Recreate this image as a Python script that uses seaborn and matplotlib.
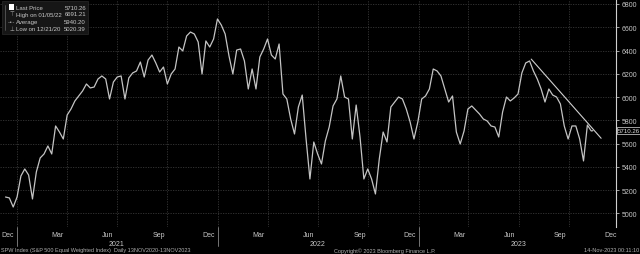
import matplotlib
matplotlib.use("Agg")
import matplotlib.pyplot as plt
import matplotlib.transforms as mtransforms
import matplotlib.patches as mpatches
from matplotlib import font_manager
import seaborn as sns
import pandas as pd

# ---------------- data ----------------
week_start = "2020-12-11"
n_weeks = 153
last_date = "2023-11-13"
spw_close = [
    5140, 5132, 5054, 5140, 5321, 5381, 5329, 5123, 5355, 5476,
    5510, 5579, 5510, 5751, 5699, 5639, 5845, 5897, 5966, 6009,
    6052, 6112, 6078, 6086, 6155, 6181, 6155, 5983, 6129, 6172,
    6181, 5983, 6164, 6207, 6224, 6301, 6172, 6318, 6361, 6293,
    6215, 6258, 6112, 6198, 6241, 6430, 6396, 6525, 6559, 6542,
    6473, 6198, 6482, 6430, 6499, 6671, 6619, 6542, 6353, 6198,
    6404, 6413, 6310, 6069, 6241, 6069, 6344, 6413, 6499, 6361,
    6327, 6456, 6026, 5983, 5811, 5682, 5914, 6017, 5639, 5295,
    5613, 5510, 5424, 5622, 5742, 5923, 5983, 6181, 6000, 5983,
    5639, 5931, 5656, 5295, 5381, 5295, 5166, 5467, 5699, 5613,
    5914, 5957, 6000, 5983, 5897, 5785, 5639, 5785, 5983, 6009,
    6069, 6241, 6224, 6181, 6069, 5957, 6009, 5699, 5596, 5708,
    5897, 5923, 5888, 5854, 5811, 5794, 5751, 5742, 5656, 5871,
    6000, 5966, 5992, 6026, 6207, 6293, 6310, 6224, 6155, 6069,
    5957, 6069, 6017, 6000, 5940, 5751, 5639, 5751, 5751, 5639,
    5450, 5759, 5708, 5710.26,
]
trend_dates = ["2023-07-24", "2023-11-28"]
trend_values = [6326, 5645]

legend_labels = ["Last Price", "High on 01/05/22", "Average", "Low on 12/21/20"]
legend_values = ["5710.26", "6691.21", "5940.20", "5020.39"]
last_price = 5710.26

y_ticks = [5000, 5200, 5400, 5600, 5800, 6000, 6200, 6400, 6600, 6800]
month_labels = ["Dec", "Mar", "Jun", "Sep", "Dec", "Mar", "Jun", "Sep",
                "Dec", "Mar", "Jun", "Sep", "Dec"]
month_label_dates = ["2020-12-15", "2021-03-15", "2021-06-15", "2021-09-15",
                     "2021-12-15", "2022-03-15", "2022-06-15", "2022-09-15",
                     "2022-12-15", "2023-03-15", "2023-06-15", "2023-09-15",
                     "2023-12-15"]
year_labels = ["2021", "2022", "2023"]
year_label_dates = ["2021-07-01", "2022-07-01", "2023-07-01"]
year_sep_dates = ["2021-01-01", "2022-01-01", "2023-01-01"]
quarter_grid_dates = pd.date_range("2021-01-01", "2023-10-01", freq="QS")

footer_left = "SPW Index (S&P 500 Equal Weighted Index)  Daily 13NOV2020-13NOV2023"
footer_mid = "Copyright\u00a9 2023 Bloomberg Finance L.P."
footer_right = "14-Nov-2023 00:11:10"

# ---------------- frame ----------------
dates = list(pd.date_range(week_start, periods=n_weeks, freq="7D")) + [pd.Timestamp(last_date)]
df = pd.DataFrame({"date": dates, "close": spw_close})

sns.set_style("dark")
installed = {f.name for f in font_manager.fontManager.ttflist}
fams = [f for f in ["Liberation Sans Narrow", "Liberation Sans", "DejaVu Sans"] if f in installed]
plt.rcParams["font.family"] = fams

W, H = 640, 255
fig = plt.figure(figsize=(W / 100, H / 100), dpi=100, facecolor="black")
ax = fig.add_axes([0, 1 - 228 / H, 616 / W, 228 / H])
ax.set_facecolor("black")

grid_col = "#383838"
text_col = "#c8c8c8"

for yv in y_ticks:
    ax.axhline(yv, color=grid_col, lw=0.6, ls=(0, (1.5, 1.5)), zorder=0)
for d in quarter_grid_dates:
    ax.axvline(d, color=grid_col, lw=0.6, ls=(0, (1.5, 1.5)), zorder=0)

sns.lineplot(data=df, x="date", y="close", ax=ax, color="#c4c4c4", lw=0.9,
             legend=False, zorder=3)
ax.plot(pd.to_datetime(trend_dates), trend_values, color="#d0d0d0", lw=0.8, zorder=4)

ax.set_xlim(pd.Timestamp("2020-12-13"), pd.Timestamp("2023-12-25"))
ax.set_ylim(4882, 6843)

# y axis on the right
ax.yaxis.tick_right()
ax.set_yticks(y_ticks)
ax.set_yticklabels([str(v) for v in y_ticks])
ax.tick_params(axis="y", colors="#bbbbbb", labelsize=5, length=2, width=0.6, pad=2,
               labelcolor=text_col)
for s in ["left", "top", "bottom"]:
    ax.spines[s].set_visible(False)
ax.spines["right"].set_color("#cfcfcf")
ax.spines["right"].set_linewidth(0.8)

# x axis labels
ax.set_xticks(pd.to_datetime(month_label_dates))
ax.set_xticklabels(month_labels)
ax.tick_params(axis="x", length=0, labelsize=5, labelcolor=text_col, pad=3)
ax.set_xticks(pd.date_range("2020-12-01", "2023-12-01", freq="MS"), minor=True)
ax.tick_params(axis="x", which="minor", direction="in", length=2, width=0.5, color="#888888")
ax.set_xlabel("")
ax.set_ylabel("")

trans = mtransforms.blended_transform_factory(ax.transData, ax.transAxes)
for d in pd.to_datetime(year_sep_dates):
    ax.plot([d, d], [0.0, -0.085], transform=trans, color="#888888", lw=0.6, clip_on=False)
for lab, d in zip(year_labels, pd.to_datetime(year_label_dates)):
    ax.text(d, -0.072, lab, transform=trans, ha="center", va="center", fontsize=5,
            color=text_col)

# last price tag
ytrans = mtransforms.blended_transform_factory(ax.transAxes, ax.transData)
ax.text(1.003, last_price, f"{last_price:.2f}", transform=ytrans, ha="left", va="center",
        fontsize=4.4, color="#e0e0e0", clip_on=False,
        bbox=dict(boxstyle="square,pad=0.12", fc="black", ec="#e0e0e0", lw=0.5))

# legend box (top-left)
fig.patches.append(mpatches.Rectangle((2 / W, 1 - 35 / H), 86 / W, 33 / H,
                                      transform=fig.transFigure, fc="#161616",
                                      ec="#2a2a2a", lw=0.5, zorder=5))
fig.lines.append(plt.Line2D([5 / W, 5 / W], [1 - 6 / H, 1 - 31 / H],
                            transform=fig.transFigure, color="#666666", lw=0.5, zorder=6))
rows_y = [8, 15, 22.5, 29.5]
symbols = ["", "\u22a4", "-\u2022-", "\u22a5"]
for i, (lab, val) in enumerate(zip(legend_labels, legend_values)):
    yy = 1 - rows_y[i] / H
    if i == 0:
        fig.patches.append(mpatches.Rectangle((9 / W, yy - 2.6 / H), 5.2 / W, 5.2 / H,
                                              transform=fig.transFigure, fc="white",
                                              ec="none", zorder=7))
    else:
        fig.text(11.5 / W, yy, symbols[i], ha="center", va="center", fontsize=4,
                 color="#aaaaaa", zorder=7, family="DejaVu Sans")
    fig.text(16 / W, yy, lab, ha="left", va="center", fontsize=4.3, color=text_col, zorder=7)
    fig.text(86 / W, yy, val, ha="right", va="center", fontsize=4.3, color=text_col, zorder=7)

# footer
fy = 1 - 251 / H
fig.text(1 / W, fy, footer_left, ha="left", va="center", fontsize=4.0, color="#b0b0b0")
fig.text(334 / W, fy, footer_mid, ha="left", va="center", fontsize=4.0, color="#b0b0b0")
fig.text(639 / W, fy, footer_right, ha="right", va="center", fontsize=4.0, color="#b0b0b0")

fig.savefig("out.png", dpi=100, facecolor="black")
